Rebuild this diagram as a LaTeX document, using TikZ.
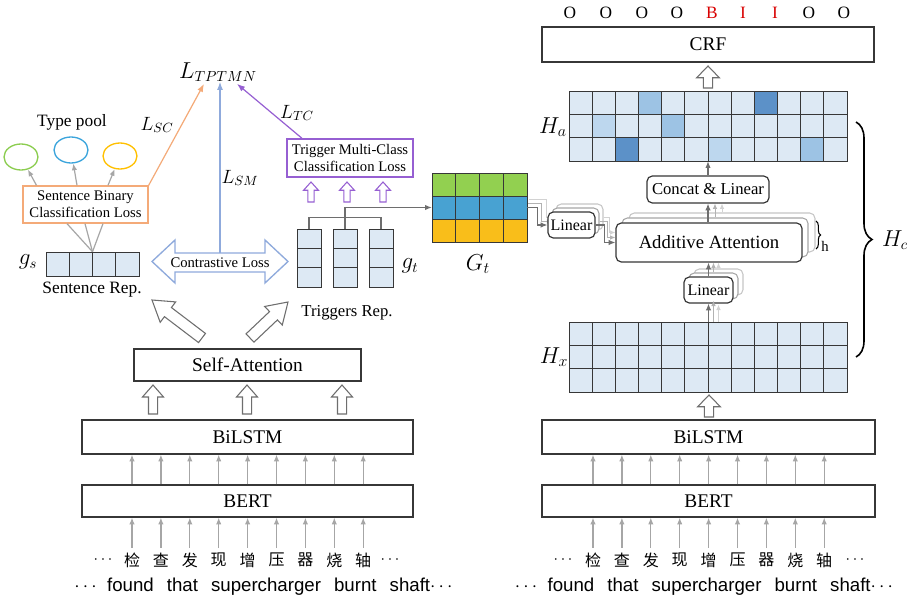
\documentclass[tikz,border=0pt]{standalone}
\usepackage{fontspec}
\setmainfont{Liberation Serif}
\newfontfamily\cjkfont{Noto Sans CJK SC}
\newfontfamily\arialfont{Liberation Sans}
\usetikzlibrary{arrows.meta,calc,decorations.pathreplacing,shapes.geometric}

% palette
\definecolor{cellbase}{RGB}{221,233,244}
\definecolor{cellmid}{RGB}{157,195,228}
\definecolor{celllt}{RGB}{189,215,238}
\definecolor{celldk}{RGB}{92,145,200}
\definecolor{gtgreen}{RGB}{146,208,80}
\definecolor{gtblue}{RGB}{72,162,210}
\definecolor{gtyellow}{RGB}{249,190,26}
\definecolor{lossorange}{RGB}{244,170,120}
\definecolor{lossblue}{RGB}{143,170,220}
\definecolor{losspurple}{RGB}{150,95,210}
\definecolor{pgreen}{RGB}{140,205,80}
\definecolor{pblue}{RGB}{60,165,220}
\definecolor{pyellow}{RGB}{255,192,0}
\definecolor{boxline}{RGB}{55,55,55}
\definecolor{tokgray}{RGB}{166,166,166}
\definecolor{hollowgray}{RGB}{110,110,110}
\definecolor{linkgray}{RGB}{110,110,110}

\newcommand{\fs}[1]{\fontsize{#1pt}{1.15\dimexpr#1pt\relax}\selectfont}

\tikzset{
  box/.style={draw=boxline, line width=0.9pt, fill=white, inner sep=0pt},
  rbox/.style={box, rounded corners=4pt},
  backbox/.style={draw=#1, line width=0.8pt, fill=white, rounded corners=4pt, inner sep=0pt},
  sz/.style 2 args={minimum width=#1*0.75pt, minimum height=#2*0.75pt},
  cell/.style={draw=boxline, line width=0.7pt},
  tok/.style={draw=tokgray, line width=0.9pt, -{Latex[length=5pt,width=4pt]}},
  harrow/.style={draw=hollowgray, line width=0.8pt, fill=white, line join=miter},
  larrow/.style={line width=0.9pt, -{Latex[length=6pt,width=4.5pt]}},
  darrow/.style={draw=linkgray, line width=0.8pt, -{Latex[length=5pt,width=4pt]}},
  lite1/.style={draw=gray!60, line width=0.7pt, -{Latex[length=4pt,width=3.5pt]}},
  lite2/.style={draw=gray!35, line width=0.7pt, -{Latex[length=4pt,width=3.5pt]}},
  lbl/.style={inner sep=0pt},
}

% hollow block arrow: [style]{from}{to}{half shaft}{half head}{head length}
\newcommand{\hollowarrow}[6][]{%
  \coordinate (hwC) at ($(#3)!#6!(#2)$);
  \draw[harrow,#1] ($(#2)!#4!90:(#3)$) -- ($(hwC)!#4!90:(#3)$) -- ($(hwC)!#5!90:(#3)$)
    -- (#3) -- ($(hwC)!#5!-90:(#3)$) -- ($(hwC)!#4!-90:(#3)$) -- ($(#2)!#4!-90:(#3)$) -- cycle;
}

\begin{document}
\begin{tikzpicture}[x=0.75pt,y=-0.75pt]
\fill[white] (0,0) rectangle (918,599);
\path[use as bounding box] (0,0) rectangle (918,599);

% ================= left branch =================
\node[box, sz={331}{32}, font=\fs{14.5}] (bertL) at (247.5,501) {BERT};
\node[box, sz={331}{34}, font=\fs{14.5}] (biL) at (247.5,437) {BiLSTM};
\node[box, sz={227}{32}, font=\fs{14.5}] (sa) at (247.5,365) {Self-Attention};

\foreach \c [count=\k] in {检,查,发,现,增,压,器,烧,轴}{
  \node[lbl, font=\cjkfont\fs{12}] (cl\k) at ({132+(\k-1)*28.9},560) {\c};
  \draw[tok] ([yshift=3.5pt]cl\k.north) -- (cl\k |- bertL.south);
  \draw[tok] (bertL.north -| cl\k) -- (biL.south -| cl\k);
}
\node[lbl, font=\fs{12}] (dl1) at (103,560) {$\cdots$};
\node[lbl, font=\fs{12}] (dl2) at (390,560) {$\cdots$};
\node[lbl, font=\arialfont\fs{14}] (enL) at (263.5,587)
  {$\cdots$\hspace{0.55em}found\hspace{0.7em}that\hspace{0.7em}supercharger\hspace{0.7em}burnt\hspace{0.7em}shaft$\cdots$};

\hollowarrow{153,414}{153,385}{3.4pt}{7.9pt}{9pt}
\hollowarrow{247,414}{247,385}{3.4pt}{7.9pt}{9pt}
\hollowarrow{342,414}{342,385}{3.4pt}{7.9pt}{9pt}
\hollowarrow{202,338}{152,300}{4.3pt}{9.6pt}{15pt}
\hollowarrow{250,338}{288,302}{4.3pt}{9.6pt}{15pt}

% sentence representation
\node[lbl, sz={93}{24}] (gs) at (92.5,264) {};
\foreach \i in {0,...,3} \draw[cell, fill=cellbase] ({46+\i*23.25},252) rectangle ++(23.25,24);
\node[lbl, font=\fs{16}] (gsl) at (28,262) {$g_s$};
\node[lbl, font=\fs{13}] (gsr) at (92,290) {Sentence Rep.};

\node[box, draw=lossorange, line width=1pt, sz={125}{37}, align=center, font=\fs{11}] (sbcl) at (85.5,204.5)
  {Sentence Binary\\Classification Loss};
\draw[tokgray, line width=0.9pt] (gs.north) -- ($(sbcl.south)+(-18.5,0)$);
\draw[tokgray, line width=0.9pt] (gs.north) -- ($(sbcl.south)+(-0.5,0)$);
\draw[tokgray, line width=0.9pt] (gs.north) -- ($(sbcl.south)+(17.5,0)$);

\node[ellipse, draw=pgreen, line width=1pt, sz={34}{26}] (eG) at (21,157) {};
\node[ellipse, draw=pblue, line width=1pt, sz={34}{26}] (eB) at (71,150) {};
\node[ellipse, draw=pyellow, line width=1pt, sz={34}{26}] (eY) at (120,156) {};
\draw[tok] ($(sbcl.north)+(-49,0)$) -- (eG);
\draw[tok] ($(sbcl.north)+(-8.5,0)$) -- (eB);
\draw[tok] ($(sbcl.north)+(22.5,0)$) -- (eY);
\node[lbl, font=\fs{13}] (tp) at (72,122) {Type pool};

% contrastive loss
\draw[draw=lossblue, line width=1pt, fill=white, line join=miter]
  (152,261.5) -- (175,240) -- (175,253) -- (265,253) -- (265,240) -- (288,261.5)
  -- (265,283) -- (265,272) -- (175,272) -- (175,283) -- cycle;
\node[lbl, font=\fs{11}] (cl) at (220,262.5) {Contrastive Loss};
\coordinate (clTop) at (220,253);

% trigger representations
\foreach \col/\x in {1/297,2/333,3/369}{
  \node[lbl, sz={24}{58}] (t\col) at ({\x+12},258) {};
  \foreach \j in {0,1,2} \draw[cell, fill=cellbase] (\x,{229+\j*19.33}) rectangle ++(24,19.33);
}
\node[lbl, font=\fs{16}] (gtl) at (410,266) {$g_t$};
\node[lbl, font=\fs{12.5}] (tr) at (347,313) {Triggers Rep.};

\node[box, draw=losspurple, line width=1pt, sz={126}{38}, align=center, font=\fs{11}] (tmcl) at (350,158)
  {Trigger Multi-Class\\Classification Loss};
\hollowarrow[draw=losspurple]{311,202}{311,182}{2.4pt}{5.6pt}{6.2pt}
\hollowarrow[draw=losspurple]{347,202}{347,182}{2.4pt}{5.6pt}{6.2pt}
\hollowarrow[draw=losspurple]{383,202}{383,182}{2.4pt}{5.6pt}{6.2pt}

% trigger-type matrix
\node[lbl, sz={95}{69}] (Gt) at (479.5,207.5) {};
\foreach \i in {0,...,3}{
  \draw[cell, fill=gtgreen] ({432+\i*23.75},173) rectangle ++(23.75,23);
  \draw[cell, fill=gtblue] ({432+\i*23.75},196) rectangle ++(23.75,23);
  \draw[cell, fill=gtyellow] ({432+\i*23.75},219) rectangle ++(23.75,23);
}
\node[lbl, font=\fs{17}] (Gtl) at (478,264) {$G_t$};

\draw[linkgray, line width=0.8pt] (t1.north) -- ++(0,-11) -| (t3.north);
\draw[darrow] (t2.north) |- (Gt.west);

% loss terms
\node[lbl, font=\fs{16}] (LT) at (218,72) {$L_{TPTMN}$};
\draw[larrow, draw=lossorange] (sbcl.north east) -- ($(LT.south)+(-14,2)$);
\draw[larrow, draw=lossblue] (clTop) -- (clTop |- LT.south);
\draw[larrow, draw=losspurple] ($(tmcl.north)+(-48,0)$) -- ($(LT.south)+(19,2)$);
\node[lbl, font=\fs{14}] (lsc) at (157,125) {$L_{SC}$};
\node[lbl, font=\fs{14}] (lsm) at (240,178) {$L_{SM}$};
\node[lbl, font=\fs{14}] (ltc) at (297,113) {$L_{TC}$};

% ================= right branch =================
\node[box, sz={333}{32}, font=\fs{14.5}] (bertR) at (708.5,501) {BERT};
\node[box, sz={333}{34}, font=\fs{14.5}] (biR) at (708.5,437) {BiLSTM};
\foreach \c [count=\k] in {检,查,发,现,增,压,器,烧,轴}{
  \node[lbl, font=\cjkfont\fs{12}] (cr\k) at ({593+(\k-1)*28.9},560) {\c};
  \draw[tok] ([yshift=3.5pt]cr\k.north) -- (cr\k |- bertR.south);
  \draw[tok] (bertR.north -| cr\k) -- (biR.south -| cr\k);
}
\node[lbl, font=\fs{12}] (dr1) at (563,560) {$\cdots$};
\node[lbl, font=\fs{12}] (dr2) at (855,560) {$\cdots$};
\node[lbl, font=\arialfont\fs{14}] (enR) at (704,587)
  {$\cdots$\hspace{0.55em}found\hspace{0.7em}that\hspace{0.7em}supercharger\hspace{0.7em}burnt\hspace{0.7em}shaft$\cdots$};

\hollowarrow{709,417}{709,395}{3.5pt}{8.5pt}{8.8pt}

% H_x
\node[lbl, sz={278}{70}] (Hx) at (708,357) {};
\foreach \i in {0,...,11}\foreach \j in {0,1,2}
  \draw[cell, fill=cellbase] ({569+\i*23.167},{322+\j*23.33}) rectangle ++(23.167,23.33);
\node[lbl, font=\fs{17}] (Hxl) at (554,357) {$H_x$};

% H_a
\node[lbl, sz={278}{70}] (Ha) at (708,126) {};
\foreach \i in {0,...,11}\foreach \j in {0,1,2}
  \draw[cell, fill=cellbase] ({569+\i*23.167},{91+\j*23.33}) rectangle ++(23.167,23.33);
\foreach \i/\j/\c in {3/0/cellmid,8/0/celldk,1/1/celllt,4/1/cellmid,2/2/celldk,6/2/celllt,10/2/cellmid}
  \draw[cell, fill=\c] ({569+\i*23.167},{91+\j*23.33}) rectangle ++(23.167,23.33);
\node[lbl, font=\fs{17}] (Hal) at (553,127) {$H_a$};

% CRF and tags
\node[box, sz={332}{35}, font=\fs{14.5}] (crf) at (708,44.5) {CRF};
\foreach \x/\t/\c [count=\k] in {570/O/black,606/O/black,642/O/black,677/O/black,712/B/red!85!black,743/I/red!85!black,775/I/red!85!black,809/O/black,844/O/black}
  \node[lbl, font=\fs{13}, text=\c] (tag\k) at (\x,13) {\t};
\hollowarrow{708,88}{708,66}{3.5pt}{8.5pt}{8.8pt}

% multi-head attention block
\node[backbox=gray!45, sz={186}{39}] (AAb2) at (722,232.5) {};
\node[backbox=gray!70, sz={186}{39}] (AAb1) at (715,237.5) {};
\node[rbox, sz={186}{39}, font=\fs{14}] (AA) at (709,242.5) {Additive Attention};

\node[rbox, sz={122}{27}, font=\fs{12.5}] (concat) at (708,189.5) {Concat \& Linear};

\node[backbox=gray!45, sz={49}{26}] (linBb2) at (718.5,282) {};
\node[backbox=gray!70, sz={49}{26}] (linBb1) at (713.5,286) {};
\node[rbox, sz={49}{26}, font=\fs{12}] (linB) at (708.5,290) {Linear};

% left Linear stack and its feeds
\draw[lite2] ($(Gt.east)+(2,-8)$) -- ++(17,0) |- ($(Gt.east)+(30,10)$);
\draw[lite1] ($(Gt.east)+(1,-4)$) -- ++(13,0) |- ($(Gt.east)+(25,14)$);
\node[backbox=gray!45, sz={47}{26}] (linLb2) at (579.5,217) {};
\node[backbox=gray!70, sz={47}{26}] (linLb1) at (575.5,221) {};
\node[rbox, sz={47}{26}, font=\fs{12}] (linL) at (571.5,225) {Linear};
\draw[darrow] (Gt.east) -- ++(10,0) |- (linL.west);

\draw[lite2] (linLb2.east) -- ++(6,0) |- ($(AA.west)+(0,-10)$);
\draw[lite1] (linLb1.east) -- ++(8,0) |- ($(AA.west)+(0,-5)$);
\draw[darrow] (linL.east) -- ++(9,0) |- (AA.west);

% vertical feeds in the attention column
\draw[lite2] (linBb2.south |- Hx.north) -- ++(0,-17);
\draw[lite1] (linBb1.south |- Hx.north) -- ++(0,-21);
\draw[darrow] (linB.south |- Hx.north) -- (linB.south);
\draw[lite2] (linBb2.north) -- (linBb2.north |- AA.south);
\draw[lite1] (linBb1.north) -- (linBb1.north |- AA.south);
\draw[darrow] (linB.north) -- (linB.north |- AA.south);
\draw[lite2] (AAb2.north) -- (AAb2.north |- concat.south);
\draw[lite1] (AAb1.north) -- (AAb1.north |- concat.south);
\draw[darrow] (concat.south |- AA.north) -- (concat.south);
\draw[darrow] (concat.north) -- (concat.north |- Ha.south);

% head count brace
\draw[line width=0.8pt, decorate, decoration={brace, amplitude=3.5pt}] (816,221) -- (816,249);
\node[lbl, font=\fs{11}] (hl) at (825,246) {h};

% H_c brace
\draw[line width=1.2pt, decorate, decoration={brace, amplitude=12pt}] (856,122) -- (856,357);
\node[lbl, font=\fs{16}] (Hcl) at (895,240) {$H_c$};
\end{tikzpicture}
\end{document}
